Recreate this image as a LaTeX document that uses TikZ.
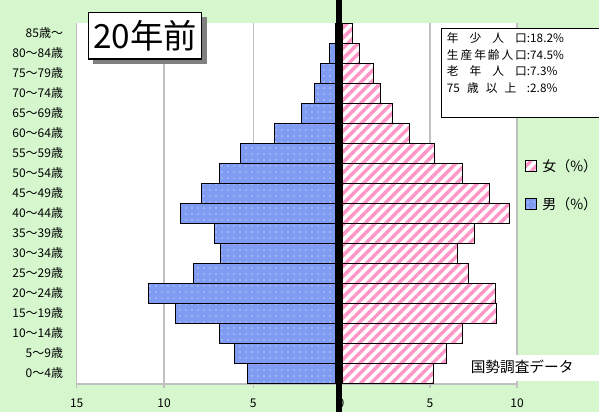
\documentclass[tikz,border=0pt]{standalone}
\usepackage{fontspec}
\setmainfont{Noto Sans CJK JP}
\usetikzlibrary{patterns.meta}
\definecolor{bggreen}{HTML}{D6F6CE}
\definecolor{gridgray}{HTML}{C0C0C0}
\definecolor{herpink}{HTML}{FF96C8}
\definecolor{hisblue}{HTML}{7F9BF2}
\tikzset{
	malebar/.style={draw=black, line width=0.75pt, preaction={fill=hisblue}, pattern={Dots[distance=4.5pt, radius=0.55pt]}, pattern color=white},
	femalebar/.style={draw=black, line width=0.75pt, preaction={fill=white}, pattern={Lines[angle=45, distance=5.5pt, line width=2.6pt]}, pattern color=herpink},
	gridline/.style={draw=gridgray, line width=1pt},
	agelabel/.style={anchor=east, inner sep=0pt, font=\fontsize{9}{9}\selectfont},
	ticklabel/.style={inner sep=0pt, font=\fontsize{9}{9}\selectfont},
	infoline/.style={anchor=west, inner sep=0pt, font=\fontsize{8.8}{8.8}\selectfont},
	keylabel/.style={anchor=west, inner sep=0pt, font=\fontsize{10.5}{10.5}\selectfont}
}
% row number, label, male %, female %
\def\agerow(#1:#2)(#3:#4){%
	\draw[malebar] ({341.5-17.6*#3}, {23.3+20*#1}) rectangle (335.5, {43.3+20*#1});
	\draw[femalebar] (342, {23.3+20*#1}) rectangle ({341.5+17.6*#4}, {43.3+20*#1});
	\node[agelabel] (age#1) at (63.3, {33.3+20*#1}) {#2};}

\begin{document}
\begin{tikzpicture}[x=0.75pt, y=-0.75pt]
				%%%%% START %%%%%
				\useasboundingbox (0, 0) rectangle (599, 412);
				\fill[bggreen] (0, 0) rectangle (599, 412);
				\fill[white] (76.7, 23.3) rectangle (517, 384);
				
				\draw[gridline] (164, 23.3) -- (164, 388);
				\draw[gridline] (253.3, 23.3) -- (253.3, 388);
				\draw[gridline] (430, 23.3) -- (430, 388);
				\draw[gridline] (517, 23.3) -- (517, 388);
				\draw[gridline] (76.7, 23.3) -- (76.7, 388);
				\draw[gridline] (76.7, 384) -- (517, 384);
				\draw[gridline] (341.5, 384) -- (341.5, 388);
				
				\agerow(0:85歳～)(0.25:0.61)
				\agerow(1:80～84歳)(0.71:1.01)
				\agerow(2:75～79歳)(1.22:1.81)
				\agerow(3:70～74歳)(1.55:2.24)
				\agerow(4:65～69歳)(2.26:2.89)
				\agerow(5:60～64歳)(3.78:3.84)
				\agerow(6:55～59歳)(5.73:5.27)
				\agerow(7:50～54歳)(6.96:6.86)
				\agerow(8:45～49歳)(7.93:8.40)
				\agerow(9:40～44歳)(9.14:9.53)
				\agerow(10:35～39歳)(7.20:7.53)
				\agerow(11:30～34歳)(6.86:6.58)
				\agerow(12:25～29歳)(8.40:7.23)
				\agerow(13:20～24歳)(10.98:8.74)
				\agerow(14:15～19歳)(9.42:8.82)
				\agerow(15:10～14歳)(6.92:6.88)
				\agerow(16:5～9歳)(6.09:5.94)
				\agerow(17:0～4歳)(5.35:5.24)
				
				\node[ticklabel] (t15) at (76.7, 403) {15};
				\node[ticklabel] (t10l) at (164, 403) {10};
				\node[ticklabel] (t5l) at (253.3, 403) {5};
				\node[ticklabel] (t0) at (341, 403) {0};
				\node[ticklabel] (t5r) at (430, 403) {5};
				\node[ticklabel] (t10r) at (517, 403) {10};
				
				\fill[white] (466, 355) rectangle (610, 380.7);
				\node[anchor=west, inner sep=0pt, font=\fontsize{11}{11}\selectfont] (source) at (470.5, 367) {国勢調査データ};
				
				\fill[black] (335.5, 0) rectangle (342, 412);
				
				\fill[gray] (93.3, 17.3) rectangle (206.7, 63.8);
				\node[draw=black, line width=1pt, fill=white, minimum width=85pt, minimum height=35pt, inner sep=0pt, font=\fontsize{25}{25}\selectfont] (title) at (145, 35.8) {20年前};
				
				\draw[fill=white, line width=0.75pt] (441.7, 28.3) rectangle (610, 117.3);
				\node[infoline] (young) at (446.7, 38.5) {\makebox[60pt][s]{年\hfill 少\hfill 人\hfill 口}:18.2\%};
				\node[infoline] (working) at (446.7, 55) {\makebox[60pt][s]{生\hfill 産\hfill 年\hfill 齢\hfill 人\hfill 口}:74.5\%};
				\node[infoline] (old) at (446.7, 71.5) {\makebox[60pt][s]{老\hfill 年\hfill 人\hfill 口}:7.3\%};
				\node[infoline] (oldold) at (446.7, 88) {\makebox[60pt][s]{75\hfill 歳\hfill 以\hfill 上\hspace{8pt}}:2.8\%};
				
				\draw[femalebar] (525.7, 160.7) rectangle (536.7, 171.7);
				\node[keylabel] (femkey) at (542, 166) {女（\%）};
				\draw[malebar] (525.7, 198.5) rectangle (536.7, 209.5);
				\node[keylabel] (malekey) at (542, 204) {男（\%）};
				%%%%% END %%%%%
\end{tikzpicture}
\end{document}
